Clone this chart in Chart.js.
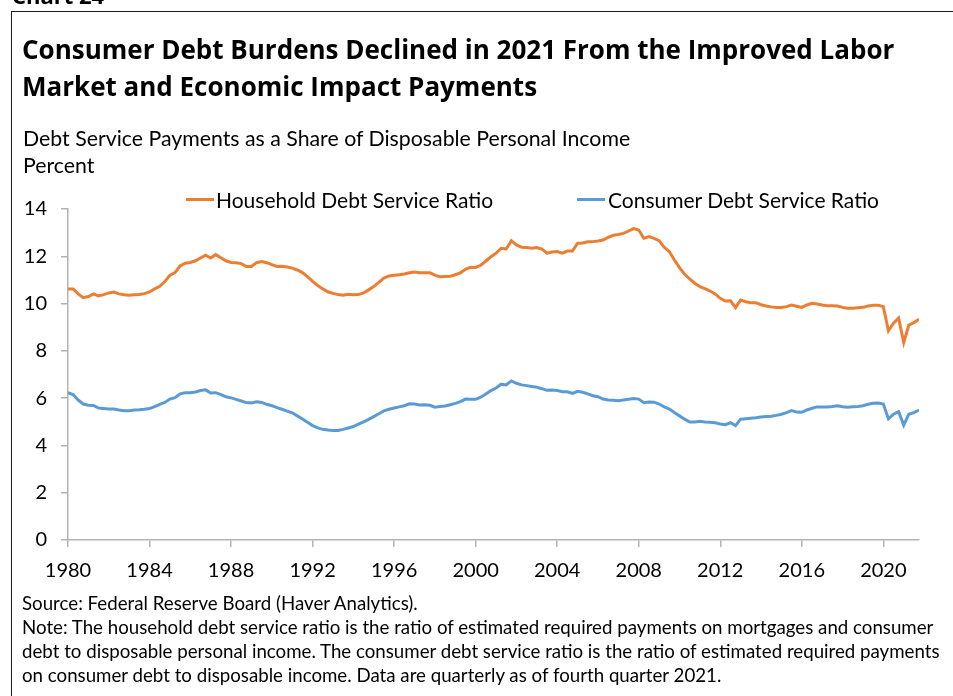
<!DOCTYPE html>
<html>
<head>
<meta charset="utf-8">
<script src="https://cdn.jsdelivr.net/npm/chart.js@4.4.1/dist/chart.umd.min.js"></script>
<style>
  body { margin: 0; width: 953px; height: 696px; overflow: hidden; background: #fff; position: relative; font-family: Lato, sans-serif; color: #000; }
  #chart { position: absolute; left: 0; top: 0; }
  .frame { position: absolute; left: 11px; top: 11px; width: 960px; height: 700px; border-left: 1.5px solid #1a1a1a; border-top: 1.5px solid #1a1a1a; }
  .txt { position: absolute; white-space: nowrap; }
  .chartno { left: 12px; top: -20px; font: 700 22px "Open Sans", sans-serif; }
  .title { left: 22px; top: 31px; font: 700 26px/37px "Open Sans", sans-serif; }
  .sub { left: 23px; top: 125px; font-size: 21.3px; line-height: 27px; }
  .leg { top: 188px; font-size: 21px; line-height: 24px; }
  .swatch { position: absolute; top: 198px; width: 28px; height: 3px; }
  .notes { left: 22px; top: 591px; font-size: 18.7px; line-height: 24px; }
</style>
</head>
<body>
<canvas id="chart" width="953" height="696"></canvas>
<div class="frame"></div>
<div class="txt chartno">Chart 24</div>
<div class="txt title">Consumer Debt Burdens Declined in 2021 From the Improved Labor<br>Market and Economic Impact Payments</div>
<div class="txt sub">Debt Service Payments as a Share of Disposable Personal Income<br>Percent</div>
<div class="swatch" style="left:186px;background:#ED7D31"></div>
<div class="txt leg" style="left:216px">Household Debt Service Ratio</div>
<div class="swatch" style="left:577px;background:#5B9BD5"></div>
<div class="txt leg" style="left:608px">Consumer Debt Service Ratio</div>
<div class="txt notes">Source: Federal Reserve Board (Haver Analytics).<br>Note: The household debt service ratio is the ratio of estimated required payments on mortgages and consumer<br>debt to disposable personal income. The consumer debt service ratio is the ratio of estimated required payments<br>on consumer debt to disposable income. Data are quarterly as of fourth quarter 2021.</div>
<script>
// quarterly, 1980Q1 - 2021Q4
const years = [];
for (let y = 1980; y <= 2021; y++) years.push(y);

const householdDsr = [
  10.62, 10.62, 10.41, 10.25,  10.30, 10.41, 10.32, 10.38,  10.45, 10.49, 10.41, 10.37,
  10.35, 10.37, 10.38, 10.42,  10.49, 10.62, 10.73, 10.93,  11.20, 11.31, 11.59, 11.71,
  11.74, 11.81, 11.93, 12.05,  11.93, 12.07, 11.94, 11.81,  11.74, 11.73, 11.69, 11.57,
  11.57, 11.73, 11.78, 11.73,  11.65, 11.57, 11.58, 11.55,  11.50, 11.42, 11.31, 11.14,
  10.94, 10.76, 10.62, 10.50,  10.43, 10.38, 10.35, 10.39,  10.37, 10.38, 10.45, 10.58,
  10.72, 10.90, 11.08, 11.17,  11.20, 11.22, 11.25, 11.30,  11.33, 11.30, 11.30, 11.30,
  11.20, 11.13, 11.14, 11.15,  11.22, 11.30, 11.45, 11.54,  11.53, 11.62, 11.80, 11.98,
  12.13, 12.34, 12.31, 12.66,  12.48, 12.38, 12.37, 12.34,  12.37, 12.30, 12.13, 12.18,
  12.20, 12.13, 12.22, 12.22,  12.55, 12.56, 12.61, 12.62,  12.65, 12.69, 12.80, 12.89,
  12.92, 12.97, 13.07, 13.17,  13.11, 12.76, 12.83, 12.76,  12.66, 12.38, 12.20, 11.84,
  11.52, 11.24, 11.04, 10.86,  10.72, 10.63, 10.53, 10.41,  10.22, 10.11, 10.12, 9.83,
  10.15, 10.08, 10.04, 10.04,  9.95, 9.90, 9.86, 9.83,      9.83, 9.87, 9.94, 9.89,
  9.84, 9.94, 10.01, 9.98,     9.94, 9.91, 9.91, 9.90,      9.84, 9.80, 9.80, 9.82,
  9.84, 9.90, 9.93, 9.93,      9.87, 8.85, 9.17, 9.39,      8.35, 9.09, 9.19, 9.34
];

const consumerDsr = [
  6.23, 6.15, 5.92, 5.75,  5.70, 5.69, 5.58, 5.56,  5.54, 5.54, 5.50, 5.47,
  5.47, 5.50, 5.51, 5.53,  5.56, 5.64, 5.74, 5.82,  5.96, 6.02, 6.18, 6.23,
  6.23, 6.26, 6.32, 6.35,  6.22, 6.23, 6.15, 6.06,  6.01, 5.95, 5.88, 5.81,
  5.80, 5.85, 5.82, 5.74,  5.68, 5.60, 5.53, 5.45,  5.38, 5.25, 5.12, 4.98,
  4.84, 4.74, 4.68, 4.65,  4.63, 4.63, 4.68, 4.74,  4.80, 4.90, 5.00, 5.10,
  5.22, 5.34, 5.46, 5.53,  5.58, 5.63, 5.68, 5.76,  5.75, 5.71, 5.72, 5.70,
  5.62, 5.65, 5.67, 5.72,  5.78, 5.85, 5.96, 5.95,  5.95, 6.04, 6.18, 6.32,
  6.43, 6.59, 6.56, 6.73,  6.63, 6.56, 6.53, 6.49,  6.46, 6.40, 6.33, 6.34,
  6.32, 6.27, 6.27, 6.20,  6.29, 6.25, 6.18, 6.10,  6.06, 5.96, 5.92, 5.91,
  5.89, 5.92, 5.95, 5.98,  5.96, 5.81, 5.84, 5.83,  5.75, 5.63, 5.54, 5.39,
  5.25, 5.11, 4.99, 4.99,  5.02, 4.99, 4.98, 4.96,  4.91, 4.88, 4.96, 4.84,
  5.11, 5.13, 5.15, 5.17,  5.20, 5.22, 5.23, 5.27,  5.32, 5.39, 5.47, 5.41,
  5.40, 5.50, 5.57, 5.63,  5.63, 5.63, 5.65, 5.68,  5.64, 5.62, 5.64, 5.65,
  5.68, 5.74, 5.78, 5.79,  5.75, 5.12, 5.32, 5.43,  4.86, 5.32, 5.39, 5.50
];

const xTickYears = [1980, 1984, 1988, 1992, 1996, 2000, 2004, 2008, 2012, 2016, 2020];
const yTickValues = [0, 2, 4, 6, 8, 10, 12, 14];

// x position of each quarter in fractional years
const quarterX = years.flatMap(y => [0, 1, 2, 3].map(q => y + q / 4));
const toPoints = arr => arr.map((v, i) => ({ x: quarterX[i], y: v }));

const axisGray = '#b3b3b3';
const tickFont = { family: 'Lato', size: 20 };

new Chart(document.getElementById('chart'), {
  type: 'line',
  data: {
    datasets: [
      { label: 'Household Debt Service Ratio', data: toPoints(householdDsr), borderColor: '#ED7D31', borderWidth: 3, pointRadius: 0, tension: 0 },
      { label: 'Consumer Debt Service Ratio', data: toPoints(consumerDsr), borderColor: '#5B9BD5', borderWidth: 3, pointRadius: 0, tension: 0 }
    ]
  },
  options: {
    responsive: false,
    animation: false,
    devicePixelRatio: 1,
    layout: { padding: { top: 209, left: 0, right: 34, bottom: 106 } },
    plugins: { legend: { display: false }, tooltip: { enabled: false } },
    scales: {
      x: {
        type: 'linear',
        min: quarterX[0],
        max: quarterX[quarterX.length - 1],
        afterBuildTicks: s => { s.ticks = xTickYears.map(v => ({ value: v })); },
        afterFit: s => { s.height = 50; },
        border: { color: axisGray, width: 1.5 },
        grid: { drawOnChartArea: false, tickLength: 7, color: axisGray, lineWidth: 1.5 },
        ticks: { autoSkip: false, maxRotation: 0, color: '#000', font: tickFont, padding: 12, callback: v => String(v) }
      },
      y: {
        min: 0,
        max: 14,
        afterBuildTicks: s => { s.ticks = yTickValues.map(v => ({ value: v })); },
        afterFit: s => { s.width = 68; },
        border: { color: axisGray, width: 1.5 },
        grid: { drawOnChartArea: false, tickLength: 7, color: axisGray, lineWidth: 1.5 },
        ticks: { color: '#000', font: tickFont, padding: 14 }
      }
    }
  }
});
</script>
</body>
</html>
